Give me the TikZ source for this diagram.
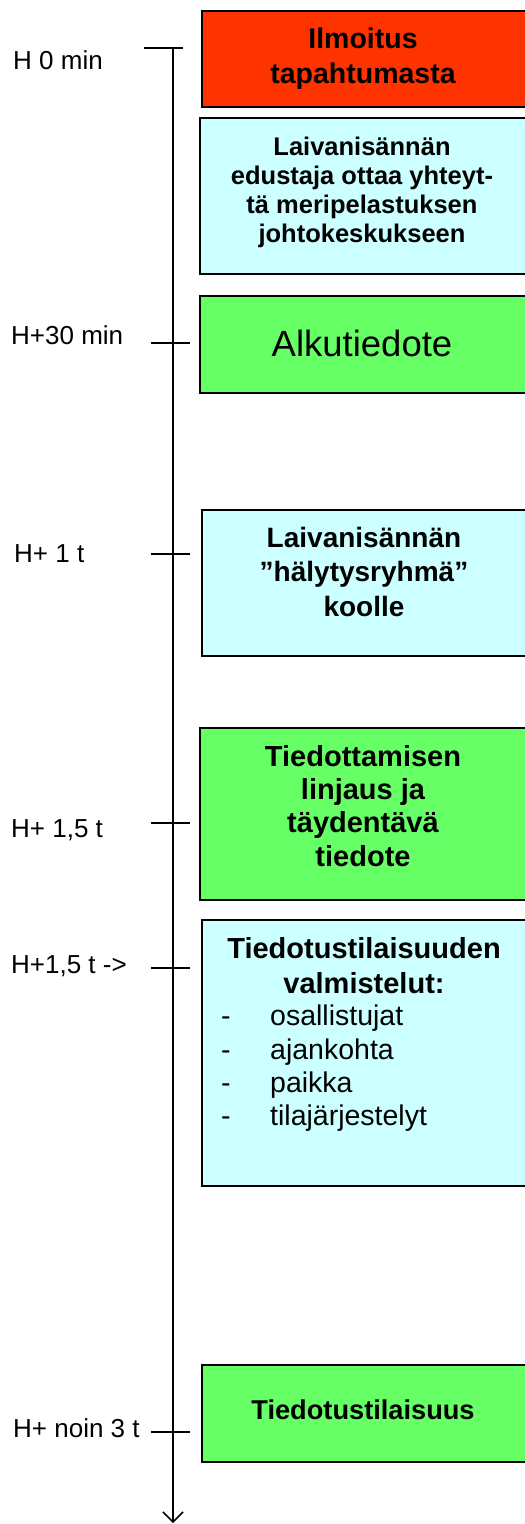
\documentclass[tikz,border=0pt]{standalone}
\usepackage{fontspec}
\setmainfont{Liberation Sans}
\usetikzlibrary{arrows.meta}
\definecolor{alarmred}{HTML}{FF3300}
\definecolor{paleCyan}{HTML}{CCFFFF}
\definecolor{paleGreen}{HTML}{66FF66}
\tikzset{
  panel/.style={draw=black, line width=2bp, anchor=north west, inner sep=0pt, minimum width=326bp},
  boxtext/.style={anchor=north, inner sep=0pt, align=center},
  timelabel/.style={anchor=base west, inner sep=0pt, font=\fontsize{26bp}{30bp}\selectfont},
  tickline/.style={line width=1.5bp},
  timeaxis/.style={line width=1.5bp, -{Straight Barb[length=10bp,width=20bp]}}
}
\begin{document}
\begin{tikzpicture}[x=1bp,y=-1bp]
\useasboundingbox (0,0) rectangle (525,1524);
\fill[white] (0,0) rectangle (525,1524);

% boxes
\node[panel, fill=alarmred, minimum height=96bp] (b1) at (201,10) {};
\node[panel, fill=paleCyan, minimum height=156bp] (b2) at (199,117) {};
\node[panel, fill=paleGreen, minimum height=97bp] (b3) at (199,295) {};
\node[panel, fill=paleCyan, minimum height=146bp] (b4) at (201,509) {};
\node[panel, fill=paleGreen, minimum height=172bp] (b5) at (199,727) {};
\node[panel, fill=paleCyan, minimum height=266bp] (b6) at (201,919) {};
\node[panel, fill=paleGreen, minimum height=97bp] (b7) at (201,1364) {};

% box texts
\node[boxtext, font=\bfseries\fontsize{28.5bp}{35bp}\selectfont] (t1) at (363,28) {Ilmoitus\\tapahtumasta};
\node[boxtext, font=\bfseries\fontsize{25.5bp}{29bp}\selectfont] (t2) at (362,137) {Laivanisännän\\edustaja ottaa yhteyt-\\tä meripelastuksen\\johtokeskukseen};
\node[boxtext, font=\fontsize{36.5bp}{42bp}\selectfont] (t3) at (362,330) {Alkutiedote};
\node[boxtext, font=\bfseries\fontsize{28bp}{34.5bp}\selectfont] (t4) at (364,527) {Laivanisännän\\”hälytysryhmä”\\koolle};
\node[boxtext, font=\bfseries\fontsize{29bp}{33.3bp}\selectfont] (t5) at (363,745) {Tiedottamisen\\linjaus ja\\täydentävä\\tiedote};
\node[boxtext, font=\bfseries\fontsize{29bp}{35bp}\selectfont] (t6) at (364,937) {Tiedotustilaisuuden\\valmistelut:};
\node[anchor=north west, inner sep=0pt, align=left, font=\fontsize{28.5bp}{33.3bp}\selectfont] (t6list) at (221,1005)
  {\makebox[49bp][l]{-}osallistujat\\\makebox[49bp][l]{-}ajankohta\\\makebox[49bp][l]{-}paikka\\\makebox[49bp][l]{-}tilajärjestelyt};
\node[boxtext, font=\bfseries\fontsize{27.2bp}{31bp}\selectfont] (t7) at (363,1400) {Tiedotustilaisuus};

% time labels
\node[timelabel] (l0) at (13,70) {H 0 min};
\node[timelabel] (l1) at (11,344) {H+30 min};
\node[timelabel] (l2) at (14,562) {H+ 1 t};
\node[timelabel] (l3) at (11,837) {H+ 1,5 t};
\node[timelabel] (l4) at (11,973) {H+1,5 t ->};
\node[timelabel] (l5) at (13,1437) {H+ noin 3 t};

% axis
\coordinate (axtop) at (173,48);
\coordinate (axend) at (173,1523);
\draw[timeaxis] (axtop) -- (axend);

% ticks
\coordinate (k0a) at (144,48);   \coordinate (k0b) at (183,48);
\coordinate (k1a) at (151,343);  \coordinate (k1b) at (190,343);
\coordinate (k2a) at (151,554);  \coordinate (k2b) at (190,554);
\coordinate (k3a) at (151,823);  \coordinate (k3b) at (190,823);
\coordinate (k4a) at (151,968);  \coordinate (k4b) at (190,968);
\coordinate (k5a) at (151,1432); \coordinate (k5b) at (190,1432);
\draw[tickline] (k0a) -- (k0b);
\draw[tickline] (k1a) -- (k1b);
\draw[tickline] (k2a) -- (k2b);
\draw[tickline] (k3a) -- (k3b);
\draw[tickline] (k4a) -- (k4b);
\draw[tickline] (k5a) -- (k5b);
\end{tikzpicture}
\end{document}
